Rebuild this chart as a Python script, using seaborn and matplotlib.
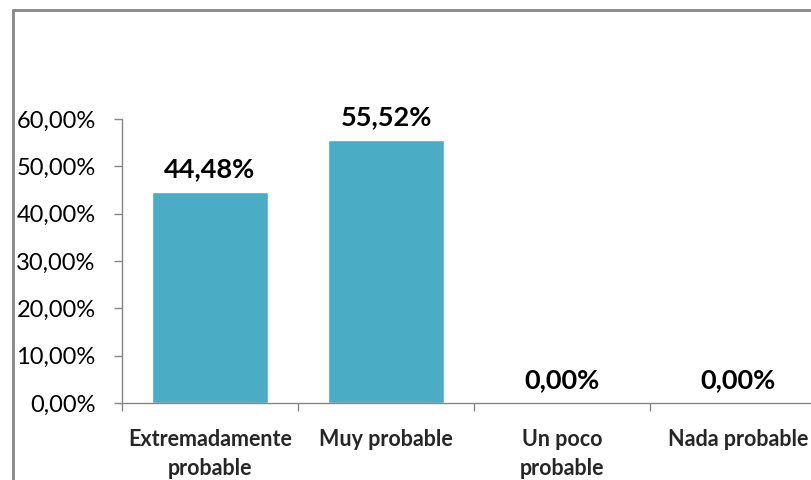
import matplotlib
matplotlib.use("Agg")
import matplotlib.pyplot as plt
import matplotlib.lines as mlines
import seaborn as sns
import pandas as pd
import numpy as np
from matplotlib.ticker import FixedLocator, FuncFormatter

categories = ["Extremadamente\nprobable", "Muy probable", "Un poco\nprobable", "Nada probable"]
values = [44.48, 55.52, 0.00, 0.00]
y_ticks = [0, 10, 20, 30, 40, 50, 60]

sns.set_theme(style="white")
plt.rcParams["font.family"] = ["Lato", "DejaVu Sans"]

df = pd.DataFrame({"categoria": categories, "valor": values})

fig = plt.figure(figsize=(8.12, 4.8), dpi=100)
ax = fig.add_axes([122 / 812, 1 - 403 / 480, (826 - 122) / 812, (403 - 119) / 480])

sns.barplot(data=df, x="categoria", y="valor", color="#4BACC6", width=0.66,
            saturation=1, ax=ax)

ax.set_ylim(0, 60)
ax.set_xlim(-0.5, len(categories) - 0.5)
ax.yaxis.set_major_locator(FixedLocator(y_ticks))
ax.yaxis.set_major_formatter(FuncFormatter(lambda v, p: f"{v:.2f}%".replace(".", ",")))
ax.set_xlabel("")
ax.set_ylabel("")

for s in ["top", "right"]:
    ax.spines[s].set_visible(False)
for s in ["left", "bottom"]:
    ax.spines[s].set_color("#868686")
    ax.spines[s].set_linewidth(1.0)

ax.tick_params(axis="y", which="major", left=True, length=6, width=1, color="#868686",
               labelsize=17, labelcolor="#000000", pad=13)
# category boundaries as x ticks
ax.xaxis.set_minor_locator(FixedLocator(np.arange(-0.5, len(categories) + 0.5, 1.0)))
ax.tick_params(axis="x", which="minor", bottom=True, length=6, width=1, color="#868686")
ax.tick_params(axis="x", which="major", bottom=False, labelsize=15.5, pad=13)
for lbl in ax.get_xticklabels():
    lbl.set_fontweight("bold")
    lbl.set_linespacing(1.45)

for i, v in enumerate(values):
    ax.annotate(f"{v:.2f}%".replace(".", ","), xy=(i, v), xytext=(0, 8),
                textcoords="offset points", ha="center", va="bottom",
                fontsize=19.5, fontweight="bold", color="#000000")

# outer chart frame
fig.add_artist(mlines.Line2D([13 / 812, 13 / 812], [0, 1 - 10 / 480],
                             transform=fig.transFigure, color="#868686", lw=2))
fig.add_artist(mlines.Line2D([13 / 812, 1], [1 - 10 / 480, 1 - 10 / 480],
                             transform=fig.transFigure, color="#868686", lw=2))

fig.savefig("out.png", dpi=100)
